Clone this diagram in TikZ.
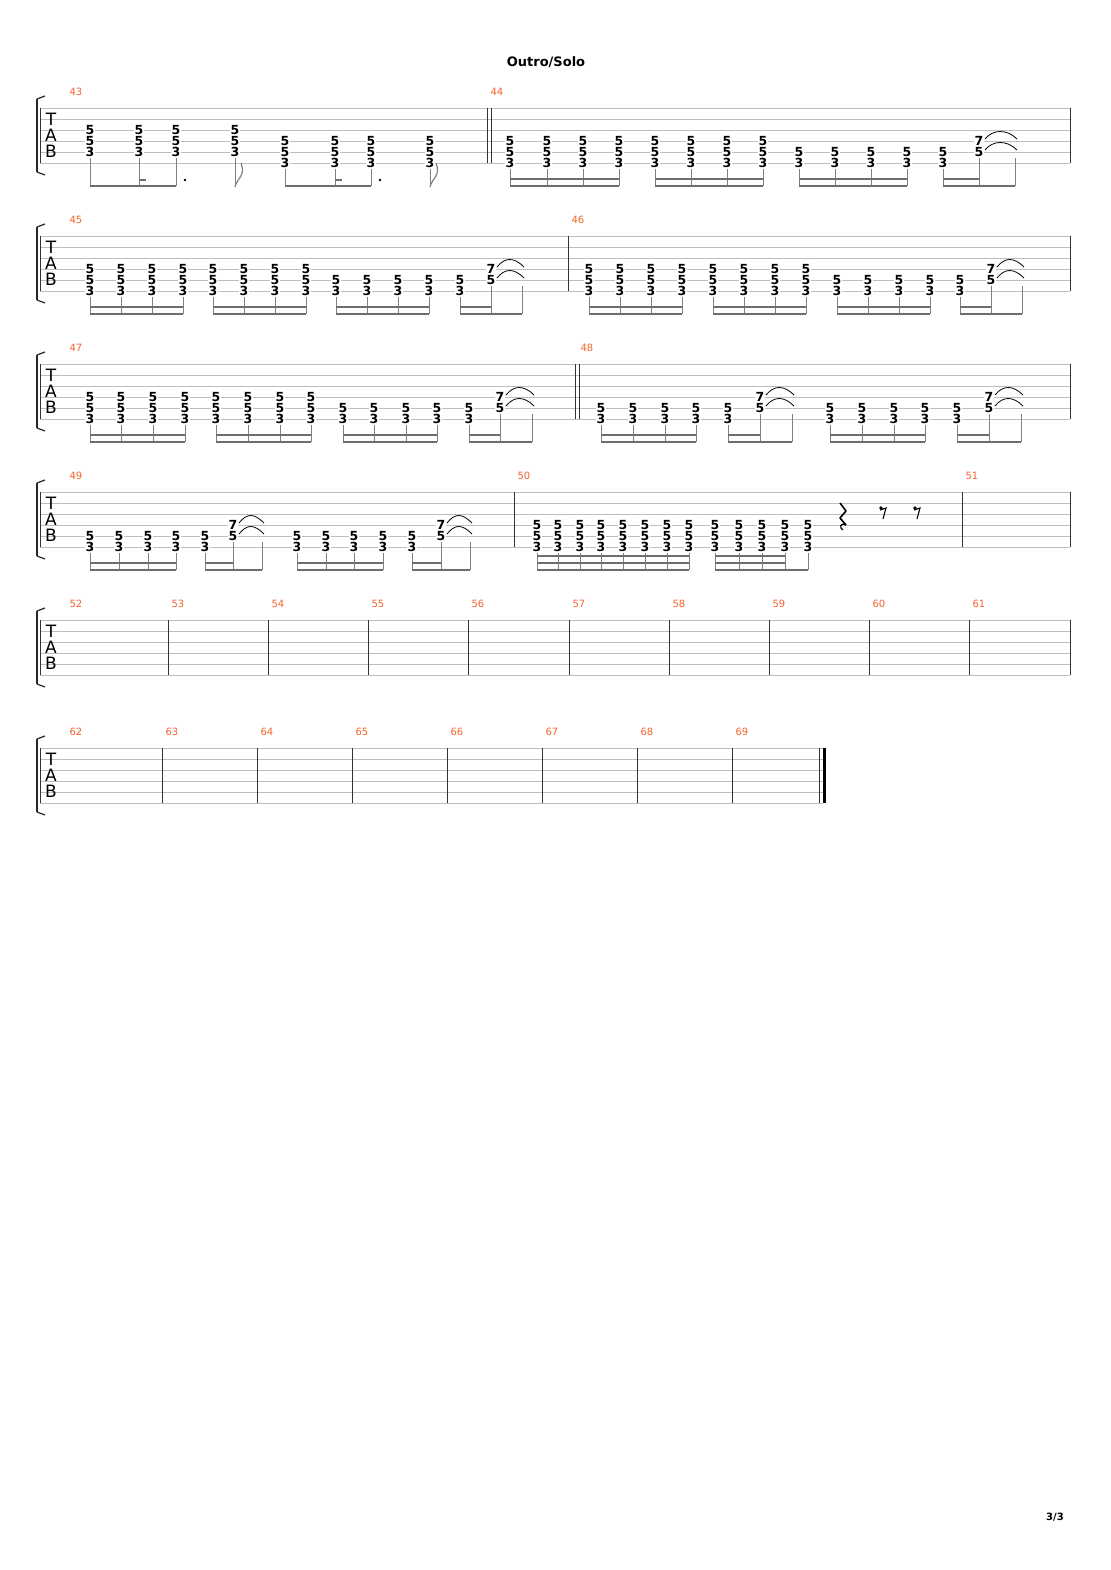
\documentclass[tikz,border=0pt]{standalone}
\usepackage{fontspec}
\setmainfont{DejaVu Sans}
\usepackage{xcolor}
\usepackage{tikz}
\definecolor{barnum}{RGB}{245, 100, 45}
\definecolor{lineg}{RGB}{190, 190, 190}
\definecolor{beamg}{RGB}{110, 110, 110}
\tikzset{
  staffline/.style={lineg, line width=0.8pt},
  barline/.style={black!80, line width=1pt},
  stem/.style={gray, line width=0.9pt},
  beam/.style={beamg, line width=2.6pt},
  fret/.style={fill=white, inner sep=0.2pt, font=\fontsize{12.5}{12}\selectfont\bfseries},
  barno/.style={barnum, anchor=west, font=\fontsize{10}{10}\selectfont},
  tabl/.style={font=\fontsize{17}{17}\selectfont, inner sep=0pt},
  tieline/.style={black, line width=0.8pt},
}
% chord: x, staff top, list string/fret
\newcommand{\chord}[3]{\foreach \s/\f in {#3} {\node[fret] at (#1,#2+11*\s-11) {\f};}}
\newcommand{\chA}[2]{\chord{#1}{#2}{3/5,4/5,5/3}\draw[stem] (#1,#2+50) -- (#1,#2+78);}
\newcommand{\chB}[2]{\chord{#1}{#2}{4/5,5/5,6/3}\draw[stem] (#1,#2+61) -- (#1,#2+78);}
\newcommand{\chC}[2]{\chord{#1}{#2}{5/5,6/3}\draw[stem] (#1,#2+61) -- (#1,#2+78);}
% bend chord 7/5 with ties up to the empty stem at #3
\newcommand{\chD}[3]{\chord{#1}{#2}{4/7,5/5}\draw[stem] (#1,#2+50) -- (#1,#2+78);
  \draw[stem] (#3,#2+50) -- (#3,#2+78);
  \foreach \s in {4,5}
    {\draw[tieline] (#1+6,#2+11*\s-13) .. controls (#1+14,#2+11*\s-23) and (#3-8,#2+11*\s-23) .. (#3+2,#2+11*\s-13);}}
\newcommand{\beam}[3]{\draw[beam] (#1,#3) -- (#2,#3);}
% staff: top, x start, x end
\newcommand{\staff}[3]{
  \foreach \i in {0,...,5} {\draw[staffline] (#2,#1+11*\i) -- (#3,#1+11*\i);}
  \draw[barline] (#2,#1) -- (#2,#1+55);
  \draw[line width=2pt, black!85] (37,#1-9) -- (37,#1+64);
  \draw[line width=1.2pt, black!85] (37,#1-9) -- (45,#1-12);
  \draw[line width=1.2pt, black!85] (37,#1+64) -- (45,#1+67);
  \node[tabl] at (51,#1+11) {T};
  \node[tabl] at (51,#1+27) {A};
  \node[tabl] at (51,#1+43) {B};}

\begin{document}
\begin{tikzpicture}[x=1pt, y=-1pt]
  \useasboundingbox[fill=white] (0,0) rectangle (1110,1570);
  \node[font=\fontsize{13}{13}\selectfont\bfseries] (title) at (546,62) {Outro/Solo};
  \node[font=\fontsize{10}{10}\selectfont\bfseries] (page) at (1055,1517) {3/3};

  % System 1
  \staff{108}{40}{1070}
  \draw[barline] (487,108) -- (487,163);
  \draw[barline] (491,108) -- (491,163);
  \draw[barline] (1070,108) -- (1070,163);
  \node[barno] at (66,92) {43};
  \node[barno] at (487,92) {44};
  \foreach \x in {90,139,176,235} {\chA{\x}{108}}
  \foreach \x in {285,335,371,430} {\chB{\x}{108}}
  \beam{90}{176}{186} \beam{139}{146}{180}
  \beam{285}{371}{186} \beam{335}{342}{180}
  \fill (185,180) circle (1.4);
  \fill (380,180) circle (1.4);
  \foreach \x in {235,430}
    {\draw[stem, line width=1.2pt] (\x,187) .. controls (\x+2,178) and (\x+11,176) .. (\x+6,163);}
  \foreach \x in {510,547,583,619,655,691,727,763} {\chB{\x}{108}}
  \foreach \x in {799,835,871,907,943} {\chC{\x}{108}}
  \chD{979}{108}{1015}
  \beam{510}{619}{179} \beam{510}{619}{186}
  \beam{655}{763}{179} \beam{655}{763}{186}
  \beam{799}{907}{179} \beam{799}{907}{186}
  \beam{943}{979}{179} \beam{943}{1015}{186}

  % System 2
  \staff{236}{40}{1070}
  \draw[barline] (568,236) -- (568,291);
  \draw[barline] (1070,236) -- (1070,291);
  \node[barno] at (66,220) {45};
  \node[barno] at (568,220) {46};
  \foreach \x in {90,121,152,183,213,244,275,306} {\chB{\x}{236}}
  \foreach \x in {336,367,398,429,460} {\chC{\x}{236}}
  \chD{491}{236}{522}
  \foreach \x in {589,620,651,682,713,744,775,806} {\chB{\x}{236}}
  \foreach \x in {837,868,899,930,960} {\chC{\x}{236}}
  \chD{991}{236}{1022}
  \foreach \a/\b in {90/183,213/306,336/429,460/491,589/682,713/806,837/930,960/991} {\beam{\a}{\b}{307}}
  \foreach \a/\b in {90/183,213/306,336/429,460/522,589/682,713/806,837/930,960/1022} {\beam{\a}{\b}{314}}

  % System 3
  \staff{364}{40}{1070}
  \draw[barline] (575,364) -- (575,419);
  \draw[barline] (579,364) -- (579,419);
  \draw[barline] (1070,364) -- (1070,419);
  \node[barno] at (66,348) {47};
  \node[barno] at (577,348) {48};
  \foreach \x in {90,121,153,185,216,248,280,311} {\chB{\x}{364}}
  \foreach \x in {343,374,406,437,469} {\chC{\x}{364}}
  \chD{500}{364}{532}
  \foreach \x in {601,633,665,696,728} {\chC{\x}{364}}
  \chD{760}{364}{792}
  \foreach \x in {830,862,894,925,957} {\chC{\x}{364}}
  \chD{989}{364}{1021}
  \foreach \a/\b in {90/185,216/311,343/437,469/500,601/696,728/760,830/925,957/989} {\beam{\a}{\b}{435}}
  \foreach \a/\b in {90/185,216/311,343/437,469/532,601/696,728/792,830/925,957/1021} {\beam{\a}{\b}{442}}

  % System 4
  \staff{492}{40}{1070}
  \draw[barline] (514,492) -- (514,547);
  \draw[barline] (962,492) -- (962,547);
  \draw[barline] (1070,492) -- (1070,547);
  \node[barno] at (66,476) {49};
  \node[barno] at (514,476) {50};
  \node[barno] at (962,476) {51};
  \foreach \x in {90,119,148,176,205} {\chC{\x}{492}}
  \chD{233}{492}{262}
  \foreach \x in {297,326,354,383,412} {\chC{\x}{492}}
  \chD{441}{492}{470}
  \foreach \a/\b in {90/176,205/233,297/383,412/441} {\beam{\a}{\b}{563}}
  \foreach \a/\b in {90/176,205/262,297/383,412/470} {\beam{\a}{\b}{570}}
  \foreach \x in {537,558,580,601,623,645,667,689,715,739,762,785,808} {\chB{\x}{492}}
  \foreach \y in {556,563,570} {\beam{537}{689}{\y}}
  \foreach \y in {556,563} {\beam{715}{785}{\y}}
  \beam{715}{808}{570}
  % rests
  \draw[black, line width=1.6pt, line join=round] (840,503) -- (846,511) -- (840,518) -- (846,525);
  \draw[black, line width=1.2pt] (846,525) .. controls (840,522) and (839,528) .. (843,530);
  \foreach \x in {883,917} {
    \fill (\x-2,508) circle (1.8);
    \draw[black, line width=1.1pt] (\x-3,510) -- (\x+3,508) -- (\x,519);}

  % System 5
  \staff{620}{40}{1070}
  \node[barno] at (66,604) {52};
  \foreach \x/\n in {168/53,268/54,368/55,468/56,569/57,669/58,769/59,869/60,969/61}
    {\draw[barline] (\x,620) -- (\x,675); \node[barno] at (\x,604) {\n};}
  \draw[barline] (1070,620) -- (1070,675);

  % System 6
  \staff{748}{40}{823}
  \node[barno] at (66,732) {62};
  \foreach \x/\n in {162/63,257/64,352/65,447/66,542/67,637/68,732/69}
    {\draw[barline] (\x,748) -- (\x,803); \node[barno] at (\x,732) {\n};}
  \draw[barline] (819,748) -- (819,803);
  \draw[black, line width=3pt] (824,748) -- (824,803);
\end{tikzpicture}
\end{document}
